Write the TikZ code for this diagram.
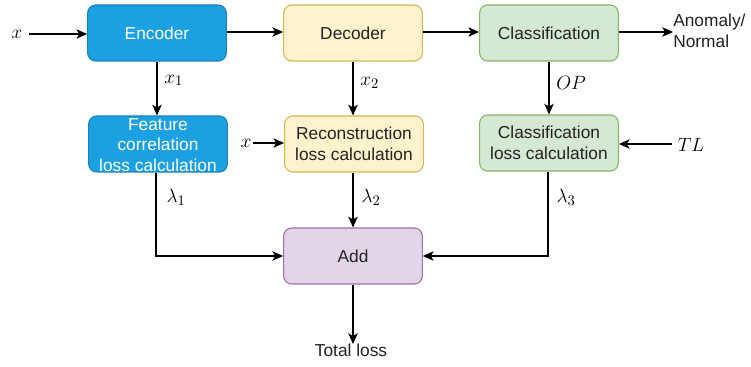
\documentclass[tikz,border=0pt]{standalone}
\usepackage{fontspec}
\setmainfont{Liberation Sans}
\setsansfont{Liberation Sans}
\usetikzlibrary{arrows.meta}
\definecolor{encF}{HTML}{1BA1E2}\definecolor{encD}{HTML}{1A7FC0}
\definecolor{decF}{HTML}{FFF2CC}\definecolor{decD}{HTML}{D6B656}
\definecolor{clsF}{HTML}{D5E8D4}\definecolor{clsD}{HTML}{82B366}
\definecolor{addF}{HTML}{E1D5E7}\definecolor{addD}{HTML}{9673A6}
\definecolor{txt}{HTML}{222222}
\begin{document}
\begin{tikzpicture}[x=0.75pt,y=-0.75pt,
  box/.style={rounded corners=6pt,line width=0.8pt,minimum width=104pt,minimum height=42pt,
    inner sep=0pt,align=center,font=\fontsize{13}{15.5}\selectfont,text=txt},
  bluebox/.style={box,fill=encF,draw=encD,text=white},
  yelbox/.style={box,fill=decF,draw=decD},
  grnbox/.style={box,fill=clsF,draw=clsD},
  purbox/.style={box,fill=addF,draw=addD},
  mlab/.style={inner sep=1pt,font=\fontsize{15}{18}\selectfont},
  plain/.style={inner sep=1pt,align=left,font=\fontsize{13}{15.5}\selectfont,text=txt},
  arr/.style={line width=1pt,-{Stealth[length=8pt,width=7pt,inset=2pt]}},
  ln/.style={line width=1pt}]
\useasboundingbox (0,0) rectangle (751,367);
% boxes
\node[bluebox] (enc) at (157,33) {Encoder};
\node[yelbox] (dec) at (353,33) {Decoder};
\node[grnbox] (cls) at (549,33) {Classification};
\node[bluebox] (feat) at (158,144) {};
\node[plain,align=center,text=white,inner sep=0pt] (featT) at (158,145) {Feature\\correlation\\loss calculation};
\node[yelbox] (rec) at (354,144) {Reconstruction\\loss calculation};
\node[grnbox] (cll) at (549,143) {Classification\\loss calculation};
\node[purbox] (add) at (353,256) {Add};
% text nodes
\node[mlab] (xin) at (17,34) {$x$};
\node[mlab] (xin2) at (246,143) {$x$};
\node[mlab] (tl) at (691,145) {$TL$};
\node[plain,anchor=west,inner sep=0pt] (out) at (673,31) {Anomaly/\\Normal};
\node[plain,anchor=north,inner sep=0pt] (tot) at (351,344) {Total loss};
\node[mlab] (l1) at (176,197) {$\lambda_1$};
\node[mlab] (l2) at (371,197) {$\lambda_2$};
\node[mlab] (l3) at (566,197) {$\lambda_3$};
% connectors
\draw[arr] (xin.east) ++(5,0) coordinate (xs) -- (enc.west |- xs);
\draw[arr] (enc.east |- 0,32) -- (dec.west |- 0,32);
\draw[arr] (dec.east |- 0,32) -- (cls.west |- 0,32);
\draw[arr] (cls.east |- 0,32) -- (out.west |- 0,32);
\draw[arr] (enc.south -| 157,0) -- node[mlab,right=4pt,pos=0.35] {$x_1$} (feat.north -| 157,0);
\draw[arr] (dec.south) -- node[mlab,right=4pt,pos=0.4] {$x_2$} (dec.south |- rec.north);
\draw[arr] (cls.south) -- node[mlab,right=4pt,pos=0.4] {$OP$} (cll.north);
\draw[arr] (xin2.east) -- (rec.west |- xin2.east);
\draw[arr] (tl.west) ++(-4,-1) coordinate (ts) -- (cll.east |- ts);
\draw[arr] (feat.south -| 156,0) |- (add.west);
\draw[arr] (rec.south -| 353,0) -- (add.north);
\draw[arr] (cll.south -| 548,0) |- (add.east);
\draw[arr] (add.south) -- (add.south |- tot.north);
\end{tikzpicture}
\end{document}
